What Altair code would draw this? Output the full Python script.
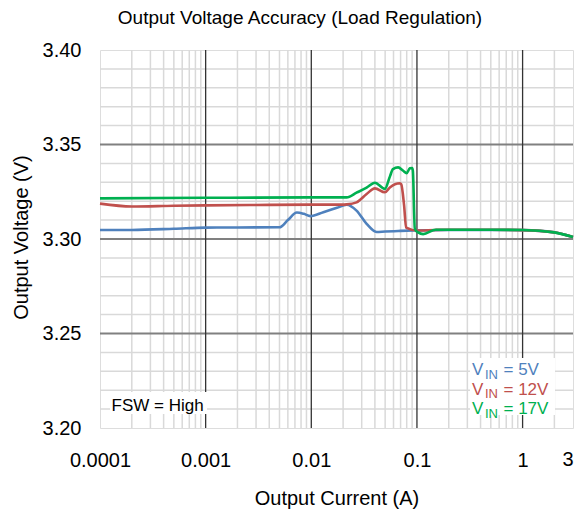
import altair as alt
import pandas as pd

# ---- series ----
x_5v = [0.0001, 0.0002, 0.0005, 0.001, 0.002, 0.005, 0.006, 0.0073, 0.0085, 0.0098, 0.013, 0.0175,
        0.0216, 0.0268, 0.0334, 0.0415, 0.05, 0.07, 0.1, 0.2, 0.5, 1, 2, 3]
y_5v = [3.3048, 3.3048, 3.3054, 3.3060, 3.3061, 3.3062, 3.3100, 3.3140, 3.3133, 3.3121, 3.3142, 3.3165,
        3.3181, 3.3150, 3.3080, 3.3037, 3.3040, 3.3043, 3.3045, 3.3048, 3.3048, 3.3047, 3.3035, 3.3010]

x_12v = [0.0001, 0.0002, 0.0005, 0.001, 0.003, 0.01, 0.02, 0.0216, 0.0268, 0.0334, 0.04, 0.0497,
         0.0554, 0.069, 0.071, 0.0755, 0.079, 0.1, 0.15, 0.2, 0.5, 1, 2, 3]
y_12v = [3.3187, 3.3172, 3.3176, 3.3178, 3.3180, 3.3182, 3.3182, 3.3183, 3.3194, 3.3238, 3.3268, 3.3247,
         3.3273, 3.3295, 3.3290, 3.3180, 3.3060, 3.3045, 3.3048, 3.3049, 3.3049, 3.3047, 3.3035, 3.3010]

x_17v = [0.0001, 0.001, 0.01, 0.0216, 0.0268, 0.0334, 0.04, 0.0497, 0.0554, 0.0593, 0.0664, 0.0741,
         0.0798, 0.0857, 0.0901, 0.0915, 0.0955, 0.1026, 0.1145, 0.15, 0.2, 0.5, 1, 2, 3]
y_17v = [3.3215, 3.3218, 3.3220, 3.3220, 3.3245, 3.3272, 3.3298, 3.3265, 3.3330, 3.3370, 3.3379, 3.3361,
         3.3348, 3.3374, 3.3376, 3.3360, 3.3053, 3.3035, 3.3026, 3.3049, 3.3049, 3.3049, 3.3048, 3.3035, 3.3010]

series_colors = ["#4F81BD", "#C0504D", "#00B050"]
legend_main = ["V", "V", "V"]
legend_sub = ["IN", "IN", "IN"]
legend_rest = ["= 5V", "= 12V", "= 17V"]
note_text = ["FSW = High"]

x_ticks = [0.0001, 0.001, 0.01, 0.1, 1, 3]
x_last_tick = [3]
y_ticks = [3.20, 3.25, 3.30, 3.35, 3.40]
x_major_grid = [0.001, 0.01, 0.1, 1]
x_minor_grid = [k * d for d in [0.0001, 0.001, 0.01, 0.1] for k in range(2, 10)] + [2]
y_major_grid = [3.25, 3.30, 3.35]
y_minor_grid = [3.21, 3.22, 3.23, 3.24, 3.26, 3.27, 3.28, 3.29, 3.31, 3.32, 3.33, 3.34,
                3.36, 3.37, 3.38, 3.39]

FONT = "Liberation Sans"

xscale = alt.Scale(type="log", domain=[0.0001, 3], nice=False)
yscale = alt.Scale(domain=[3.2, 3.4], nice=False)

xaxis = alt.Axis(values=x_ticks, format="~g", title="Output Current (A)", grid=False, ticks=False,
                 tickSize=0, domain=False, labelFontSize=20, labelPadding=22, labelFlush=False,
                 labelOverlap=False, labelColor="black",
                 labelExpr="datum.value >= 2 ? '' : datum.label",
                 titleFontSize=20, titleFontWeight="normal",
                 titleColor="black", titleY=76, titleBaseline="alphabetic")
yaxis = alt.Axis(values=y_ticks, format=".2f", title="Output Voltage (V)", grid=False, ticks=False,
                 tickSize=0, domain=False, labelFontSize=20, labelPadding=19, labelColor="black",
                 titleFontSize=20, titleFontWeight="normal", titleColor="black",
                 titleX=-73, titleY=187, titleBaseline="alphabetic", titleAlign="center")

X = lambda f: alt.X(f"{f}:Q", scale=xscale, axis=xaxis)
Y = lambda f: alt.Y(f"{f}:Q", scale=yscale, axis=yaxis)

minor_v = alt.Chart(pd.DataFrame({"x": x_minor_grid})).mark_rule(color="#d9d9d9", strokeWidth=1.5).encode(x=X("x"))
minor_h = alt.Chart(pd.DataFrame({"y": y_minor_grid})).mark_rule(color="#d9d9d9", strokeWidth=1.5).encode(y=Y("y"))
major_h = alt.Chart(pd.DataFrame({"y": y_major_grid})).mark_rule(color="#808080", strokeWidth=2).encode(y=Y("y"))
major_v = alt.Chart(pd.DataFrame({"x": x_major_grid})).mark_rule(color="#333333", strokeWidth=1.3).encode(x=X("x"))

def line(xs, ys, color):
    df = pd.DataFrame({"x": xs, "y": ys})
    return alt.Chart(df).mark_line(color=color, strokeWidth=2.6, interpolate="monotone").encode(
        x=X("x"), y=Y("y"))

l5 = line(x_5v, y_5v, series_colors[0])
l12 = line(x_12v, y_12v, series_colors[1])
l17 = line(x_17v, y_17v, series_colors[2])

# last tick label, nudged left so it stays inside the page
last_label = alt.Chart(pd.DataFrame({"x": x_last_tick, "t": ["3"]})).mark_text(
    align="center", baseline="top", fontSize=20, font=FONT, color="black", dx=-5).encode(
    x=X("x"), y=alt.value(400), text="t:N")

one = pd.DataFrame({"a": [0]})
box_legend = alt.Chart(one).mark_rect(color="white").encode(
    x=alt.value(370), x2=alt.value(455), y=alt.value(308), y2=alt.value(365))
box_note = alt.Chart(one).mark_rect(color="white").encode(
    x=alt.value(10), x2=alt.value(107), y=alt.value(342), y2=alt.value(364))

texts = []
baselines = [325, 344.5, 364]
for i in range(3):
    c = series_colors[i]
    b = baselines[i]
    texts.append(alt.Chart(pd.DataFrame({"t": [legend_main[i]]})).mark_text(
        align="left", baseline="alphabetic", fontSize=17, font=FONT, color=c).encode(
        text="t:N", x=alt.value(372), y=alt.value(b)))
    texts.append(alt.Chart(pd.DataFrame({"t": [legend_sub[i]]})).mark_text(
        align="left", baseline="alphabetic", fontSize=13, font=FONT, color=c).encode(
        text="t:N", x=alt.value(385), y=alt.value(b + 3.5)))
    texts.append(alt.Chart(pd.DataFrame({"t": [legend_rest[i]]})).mark_text(
        align="left", baseline="alphabetic", fontSize=17, font=FONT, color=c).encode(
        text="t:N", x=alt.value(403.5), y=alt.value(b)))

note = alt.Chart(pd.DataFrame({"t": note_text})).mark_text(
    align="left", baseline="alphabetic", fontSize=17, font=FONT, color="black").encode(
    text="t:N", x=alt.value(11.5), y=alt.value(360.7))

title = alt.Chart(pd.DataFrame({"t": ["Output Voltage Accuracy (Load Regulation)"]})).mark_text(
    align="center", baseline="alphabetic", fontSize=19, font=FONT, color="black").encode(
    text="t:N", x=alt.value(200), y=alt.value(-26))

chart = alt.layer(minor_v, minor_h, major_h, major_v, l5, l12, l17, last_label,
                  box_legend, box_note, *texts, note, title).properties(
    width=473, height=378,
    autosize=alt.AutoSizeParams(type="none"),
    padding={"left": 92, "top": 42, "right": 3, "bottom": 85},
    background="white",
).configure_view(stroke="black", strokeWidth=2.5).configure(font=FONT)

chart.save("out.html", embed_options={"renderer": "svg", "actions": False})
